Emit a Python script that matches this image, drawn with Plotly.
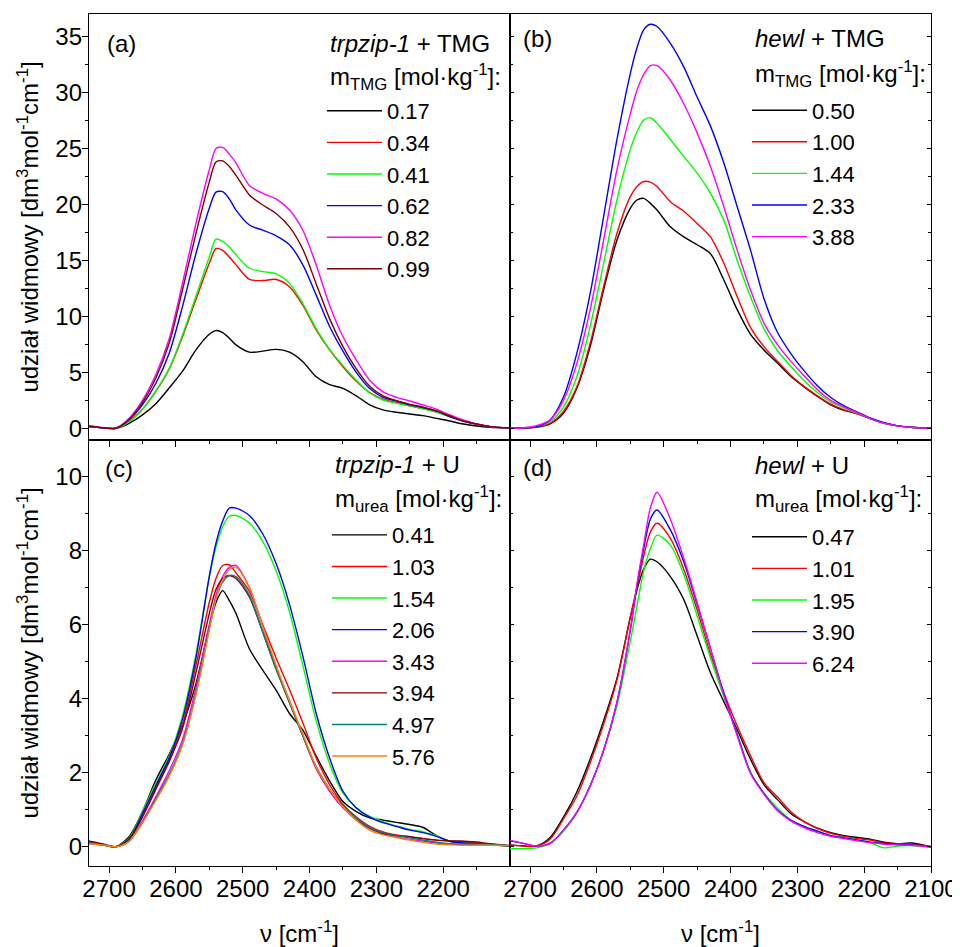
import plotly.graph_objects as go

# wavenumber grid [cm^-1]
NU = [2730, 2710, 2690, 2670, 2650, 2630, 2610, 2590, 2570, 2550, 2540, 2530, 2520, 2510,
      2490, 2470, 2450, 2430, 2410, 2390, 2370, 2350, 2330, 2310, 2290, 2270, 2250, 2230,
      2210, 2190, 2170, 2150, 2130, 2100]

# (a) trpzip-1 + TMG
A_017 = [0.15, 0.05, 0.0, 0.45, 1.2, 2.2, 3.6, 5.1, 7.0, 8.4, 8.73, 8.55, 8.05, 7.45, 6.8, 6.9, 7.05, 6.8, 5.95, 4.6,
         3.9, 3.57, 2.9, 2.1, 1.64, 1.43, 1.28, 1.13, 0.89, 0.65, 0.38, 0.2, 0.09, 0.02]
A_034 = [0.15, 0.05, 0.0, 0.6, 1.7, 3.3, 5.3, 8.2, 11.5, 14.75, 16.05, 15.9, 15.3, 14.6, 13.3, 13.2, 13.3, 12.65, 11.0, 8.8,
         7.0, 5.5, 4.2, 3.2, 2.6, 2.3, 2.0, 1.76, 1.46, 1.04, 0.65, 0.38, 0.15, 0.03]
A_041 = [0.15, 0.05, 0.0, 0.6, 1.7, 3.35, 5.35, 8.35, 11.8, 15.3, 16.9, 16.7, 16.2, 15.5, 14.3, 14.0, 13.8, 12.95, 11.15, 8.9,
         7.05, 5.6, 4.3, 3.15, 2.53, 2.23, 2.0, 1.73, 1.46, 1.04, 0.65, 0.38, 0.15, 0.03]
A_062 = [0.15, 0.05, 0.0, 0.75, 2.1, 4.0, 6.7, 10.9, 15.6, 19.66, 21.1, 21.15, 20.5, 19.5, 18.17, 17.7, 17.2, 16.4, 14.6, 11.9,
         9.1, 6.9, 5.0, 3.55, 2.77, 2.44, 2.1, 1.85, 1.55, 1.04, 0.65, 0.38, 0.15, 0.03]
A_082 = [0.2, 0.05, 0.0, 0.9, 2.5, 4.8, 8.0, 13.0, 18.3, 23.1, 25.0, 25.1, 24.5, 23.7, 21.7, 21.0, 20.5, 19.5, 17.7, 14.6,
         11.0, 8.2, 6.1, 4.3, 3.25, 2.77, 2.44, 2.08, 1.7, 1.19, 0.74, 0.38, 0.15, 0.03]
A_099 = [0.2, 0.05, 0.0, 0.8, 2.3, 4.5, 7.6, 12.4, 17.4, 22.0, 23.8, 23.9, 23.4, 22.6, 20.85, 19.95, 19.2, 18.0, 16.0, 12.9,
         9.8, 7.3, 5.3, 3.75, 2.9, 2.47, 2.14, 1.88, 1.55, 1.1, 0.65, 0.38, 0.15, 0.03]

# (b) hewl + TMG
B_050 = [0.0, 0.02, 0.1, 0.4, 1.34, 3.57, 7.3, 12.35, 16.8, 19.66, 20.4, 20.55, 20.1, 19.5, 18.0, 17.1, 16.4, 15.6, 13.25, 10.6,
         8.4, 7.0, 5.85, 4.65, 3.7, 2.85, 2.1, 1.6, 1.3, 0.85, 0.45, 0.22, 0.1, 0.0]
B_100 = [0.0, 0.02, 0.1, 0.45, 1.5, 3.7, 7.6, 12.65, 17.4, 20.7, 21.6, 22.05, 22.0, 21.6, 20.25, 19.4, 18.3, 17.1, 14.75, 11.76,
         9.0, 7.3, 6.0, 4.75, 3.75, 2.9, 2.15, 1.65, 1.3, 0.85, 0.45, 0.22, 0.1, 0.0]
B_144 = [0.0, 0.03, 0.15, 0.6, 1.9, 4.6, 9.1, 14.7, 20.4, 24.9, 26.5, 27.55, 27.75, 27.25, 25.8, 24.3, 22.8, 21.0, 18.6, 15.0,
         11.76, 8.9, 6.95, 5.55, 4.25, 3.2, 2.35, 1.8, 1.35, 0.85, 0.45, 0.22, 0.1, 0.0]
B_233 = [0.0, 0.02, 0.15, 0.75, 2.8, 6.7, 12.05, 18.9, 25.8, 31.7, 34.0, 35.6, 36.1, 35.9, 34.4, 32.3, 29.6, 27.0, 23.7, 19.8,
         15.9, 11.6, 8.6, 6.7, 5.15, 3.8, 2.75, 2.0, 1.45, 0.9, 0.5, 0.22, 0.1, 0.0]
B_388 = [0.0, 0.05, 0.24, 0.75, 2.5, 5.8, 10.6, 16.8, 23.1, 28.1, 30.2, 31.6, 32.4, 32.4, 31.1, 29.0, 26.4, 23.4, 19.8, 15.9,
         12.35, 9.4, 7.5, 6.0, 4.7, 3.45, 2.5, 1.9, 1.4, 0.85, 0.45, 0.22, 0.1, 0.0]

# (c) trpzip-1 + urea
C_041 = [0.15, 0.06, 0.0, 0.27, 0.95, 1.8, 2.5, 3.3, 4.4, 5.95, 6.6, 6.92, 6.65, 6.3, 5.35, 4.77, 4.23, 3.6, 3.15, 2.45,
         1.78, 1.22, 0.95, 0.78, 0.72, 0.66, 0.6, 0.52, 0.3, 0.15, 0.14, 0.09, 0.05, 0.02]
C_103 = [0.1, 0.05, 0.0, 0.2, 0.85, 1.6, 2.35, 3.3, 4.9, 6.6, 7.25, 7.6, 7.62, 7.4, 6.9, 6.0, 5.1, 4.25, 3.35, 2.4,
         1.68, 1.15, 0.8, 0.55, 0.4, 0.32, 0.27, 0.22, 0.18, 0.15, 0.12, 0.1, 0.07, 0.03]
C_154 = [0.1, 0.05, 0.0, 0.23, 0.95, 1.72, 2.45, 3.55, 5.2, 7.3, 8.1, 8.65, 8.93, 8.95, 8.75, 8.25, 7.45, 6.35, 4.9, 3.4,
         2.25, 1.45, 1.05, 0.82, 0.68, 0.56, 0.47, 0.4, 0.3, 0.15, 0.1, 0.08, 0.06, 0.02]
C_206 = [0.1, 0.05, 0.0, 0.2, 0.9, 1.65, 2.4, 3.45, 5.1, 7.3, 8.2, 8.8, 9.15, 9.15, 8.95, 8.45, 7.65, 6.55, 5.15, 3.6,
         2.4, 1.5, 1.05, 0.8, 0.65, 0.55, 0.45, 0.38, 0.28, 0.15, 0.1, 0.08, 0.06, 0.02]
C_343 = [0.08, 0.05, 0.0, 0.15, 0.7, 1.35, 2.05, 2.9, 4.3, 6.0, 6.8, 7.3, 7.55, 7.6, 7.0, 5.95, 4.85, 3.95, 3.0, 2.1,
         1.5, 1.05, 0.72, 0.5, 0.36, 0.27, 0.2, 0.15, 0.1, 0.07, 0.06, 0.06, 0.05, 0.03]
C_394 = [0.15, 0.08, 0.0, 0.2, 0.8, 1.55, 2.3, 3.2, 4.7, 6.3, 6.95, 7.25, 7.33, 7.25, 6.75, 5.8, 4.8, 3.9, 3.0, 2.15,
         1.55, 1.1, 0.75, 0.5, 0.35, 0.3, 0.27, 0.22, 0.18, 0.16, 0.15, 0.13, 0.08, 0.03]
C_497 = [0.1, 0.05, 0.0, 0.15, 0.65, 1.3, 1.95, 2.8, 4.15, 5.9, 6.7, 7.15, 7.33, 7.3, 6.8, 5.8, 4.8, 3.9, 3.0, 2.15,
         1.55, 1.1, 0.78, 0.52, 0.38, 0.3, 0.24, 0.18, 0.12, 0.08, 0.07, 0.07, 0.06, 0.03]
C_576 = [0.08, 0.05, 0.0, 0.15, 0.65, 1.25, 1.9, 2.75, 4.1, 5.85, 6.7, 7.2, 7.5, 7.55, 7.0, 5.95, 4.9, 3.95, 3.05, 2.15,
         1.55, 1.08, 0.72, 0.45, 0.32, 0.25, 0.18, 0.12, 0.07, 0.05, 0.04, 0.04, 0.04, 0.03]

# (d) hewl + urea
D_047 = [0.05, 0.02, 0.02, 0.25, 0.8, 1.48, 2.37, 3.4, 4.55, 6.2, 6.94, 7.5, 7.77, 7.7, 7.3, 6.68, 5.7, 4.7, 3.92, 3.16,
         2.36, 1.68, 1.28, 0.9, 0.68, 0.5, 0.38, 0.3, 0.25, 0.2, 0.12, 0.08, 0.1, 0.0]
D_101 = [0.05, 0.02, 0.02, 0.2, 0.75, 1.37, 2.27, 3.3, 4.5, 6.2, 7.0, 7.85, 8.5, 8.74, 8.33, 7.5, 6.4, 5.2, 4.16, 3.26,
         2.46, 1.73, 1.35, 0.95, 0.68, 0.5, 0.36, 0.28, 0.22, 0.18, 0.1, 0.08, 0.07, 0.0]
D_195 = [-0.05, -0.05, -0.03, 0.1, 0.42, 0.92, 1.65, 2.6, 3.8, 5.55, 6.5, 7.45, 8.05, 8.42, 8.15, 7.36, 6.24, 5.1, 4.05, 3.05,
         2.0, 1.45, 1.05, 0.72, 0.55, 0.42, 0.3, 0.24, 0.18, 0.1, -0.03, 0.02, 0.03, -0.02]
D_390 = [0.16, 0.09, 0.02, 0.09, 0.45, 0.93, 1.65, 2.6, 3.9, 5.85, 7.05, 8.05, 8.85, 9.1, 8.56, 7.7, 6.55, 5.35, 4.14, 3.03,
         2.0, 1.44, 0.99, 0.72, 0.55, 0.42, 0.3, 0.24, 0.18, 0.12, 0.08, 0.06, 0.05, 0.0]
D_624 = [0.18, 0.09, 0.02, 0.09, 0.45, 0.93, 1.65, 2.6, 3.9, 5.85, 7.1, 8.15, 9.15, 9.58, 8.85, 7.8, 6.6, 5.35, 4.1, 3.0,
         1.98, 1.42, 0.98, 0.7, 0.52, 0.38, 0.28, 0.22, 0.16, 0.11, 0.07, 0.05, 0.04, 0.0]

# tick labels
X_TICKS_LEFT = [2700, 2600, 2500, 2400, 2300, 2200]
X_TICKS_RIGHT = [2700, 2600, 2500, 2400, 2300, 2200, 2100]
X_MINOR = [2650, 2550, 2450, 2350, 2250, 2150]
Y_TICKS_TOP = [0, 5, 10, 15, 20, 25, 30, 35]
Y_MINOR_TOP = [2.5, 7.5, 12.5, 17.5, 22.5, 27.5, 32.5]
Y_TICKS_BOT = [0, 2, 4, 6, 8, 10]
Y_MINOR_BOT = [1, 3, 5, 7, 9]

BLACK, RED, GREEN, BLUE, MAGENTA = "#000000", "#FF0000", "#00FF00", "#0000FF", "#FF00FF"
BROWN, TEAL, ORANGE = "#800000", "#008080", "#FF8000"

FONT = "Liberation Sans, Arial, sans-serif"

panels = [
    ("x", "y", "legend", [(A_017, "0.17", BLACK), (A_034, "0.34", RED), (A_041, "0.41", GREEN),
                          (A_062, "0.62", BLUE), (A_082, "0.82", MAGENTA), (A_099, "0.99", BROWN)]),
    ("x2", "y2", "legend2", [(B_050, "0.50", BLACK), (B_100, "1.00", RED), (B_144, "1.44", GREEN),
                             (B_233, "2.33", BLUE), (B_388, "3.88", MAGENTA)]),
    ("x3", "y3", "legend3", [(C_041, "0.41", BLACK), (C_103, "1.03", RED), (C_154, "1.54", GREEN),
                             (C_206, "2.06", BLUE), (C_343, "3.43", MAGENTA), (C_394, "3.94", BROWN),
                             (C_497, "4.97", TEAL), (C_576, "5.76", ORANGE)]),
    ("x4", "y4", "legend4", [(D_047, "0.47", BLACK), (D_101, "1.01", RED), (D_195, "1.95", GREEN),
                             (D_390, "3.90", BLUE), (D_624, "6.24", MAGENTA)]),
]

fig = go.Figure()
for xa, ya, leg, series in panels:
    for vals, name, col in series:
        fig.add_trace(go.Scatter(x=NU, y=vals, name=name, mode="lines", xaxis=xa, yaxis=ya, legend=leg,
                                 line=dict(color=col, width=1.4, shape="spline", smoothing=0.8)))

axis_common = dict(showline=True, linecolor="black", linewidth=1.3, showgrid=False, zeroline=False,
                   tickcolor="black", tickwidth=1.2, ticklabelstandoff=-5,
                   tickfont=dict(family=FONT, size=24, color="black"))

def xax(domain, anchor, labels, tickvals):
    return dict(domain=domain, anchor=anchor, range=[2730, 2100], tickmode="array", tickvals=tickvals,
                ticks="outside", ticklen=6, mirror=True, showticklabels=labels,
                minor=dict(tickmode="array", tickvals=X_MINOR, ticks="outside", ticklen=3, tickcolor="black", tickwidth=1.1),
                **axis_common)

def yax(domain, anchor, rng, tv, mv, labels, title=None):
    d = dict(domain=domain, anchor=anchor, range=rng, tickmode="array", tickvals=tv,
             ticks="outside" if labels else "inside", ticklen=6 if labels else 4,
             mirror=True if labels else "ticks", showticklabels=labels,
             minor=dict(tickmode="array", tickvals=mv, ticks="outside" if labels else "inside", ticklen=3,
                        tickcolor="black", tickwidth=1.1),
             **axis_common)
    if title:
        d["title"] = dict(text=title, font=dict(family=FONT, size=24, color="black"), standoff=9)
    return d

YT = "udział widmowy [dm<sup>3</sup>mol<sup>-1</sup>cm<sup>-1</sup>]"
XT = "ν [cm<sup>-1</sup>]"

x3 = xax([0, 0.5], "y3", True, X_TICKS_LEFT)
x3["title"] = dict(text=XT, font=dict(family=FONT, size=24, color="black"), standoff=31)
x4 = xax([0.5, 1], "y4", True, X_TICKS_RIGHT)
x4["title"] = dict(text=XT, font=dict(family=FONT, size=24, color="black"), standoff=31)

leg_common = dict(bgcolor="rgba(0,0,0,0)", borderwidth=0, itemwidth=55, xanchor="left", yanchor="top",
                  font=dict(family=FONT, size=22, color="black"), tracegroupgap=0)

def legend(x, y):
    return dict(x=x, y=y, **leg_common)

def txt(text, x, y, size=24):
    return dict(text=text, x=x, y=y, xref="paper", yref="paper", xanchor="left", yanchor="middle",
                showarrow=False, font=dict(family=FONT, size=size, color="black"))

fig.update_layout(
    width=952, height=939,
    margin=dict(l=81, r=29, t=6, b=81, autoexpand=False),
    paper_bgcolor="white", plot_bgcolor="white",
    font=dict(family=FONT, size=22, color="black"),
    xaxis=xax([0, 0.5], "y", False, X_TICKS_LEFT),
    xaxis2=xax([0.5, 1], "y2", False, X_TICKS_RIGHT),
    xaxis3=x3, xaxis4=x4,
    yaxis=yax([0.5, 1], "x", [-1.046, 37.02], Y_TICKS_TOP, Y_MINOR_TOP, True, YT),
    yaxis2=yax([0.5, 1], "x2", [-1.046, 37.02], Y_TICKS_TOP, Y_MINOR_TOP, False),
    yaxis3=yax([0, 0.5], "x3", [-0.52, 10.99], Y_TICKS_BOT, Y_MINOR_BOT, True, YT),
    yaxis4=yax([0, 0.5], "x4", [-0.52, 10.99], Y_TICKS_BOT, Y_MINOR_BOT, False),
    legend=legend(0.2767, 0.9108),
    legend2=legend(0.7815, 0.9115),
    legend3=legend(0.2827, 0.4131),
    legend4=legend(0.7815, 0.4108),
    annotations=[
        txt("(a)", 0.019, 0.965), txt("(b)", 0.513, 0.971),
        txt("(c)", 0.017, 0.466), txt("(d)", 0.513, 0.468),
        txt("<i>trpzip-1</i> + TMG", 0.2838, 0.9648),
        txt("m<sub>TMG</sub> [mol·kg<sup>-1</sup>]:", 0.2838, 0.9255),
        txt("<i>hewl</i> + TMG", 0.7886, 0.9718),
        txt("m<sub>TMG</sub> [mol·kg<sup>-1</sup>]:", 0.7886, 0.9295),
        txt("<i>trpzip-1</i> + U", 0.2898, 0.4707),
        txt("m<sub>urea</sub> [mol·kg<sup>-1</sup>]:", 0.2898, 0.4305),
        txt("<i>hewl</i> + U", 0.7886, 0.4695),
        txt("m<sub>urea</sub> [mol·kg<sup>-1</sup>]:", 0.7886, 0.4305),
    ],
)

fig.write_html("out.html")
